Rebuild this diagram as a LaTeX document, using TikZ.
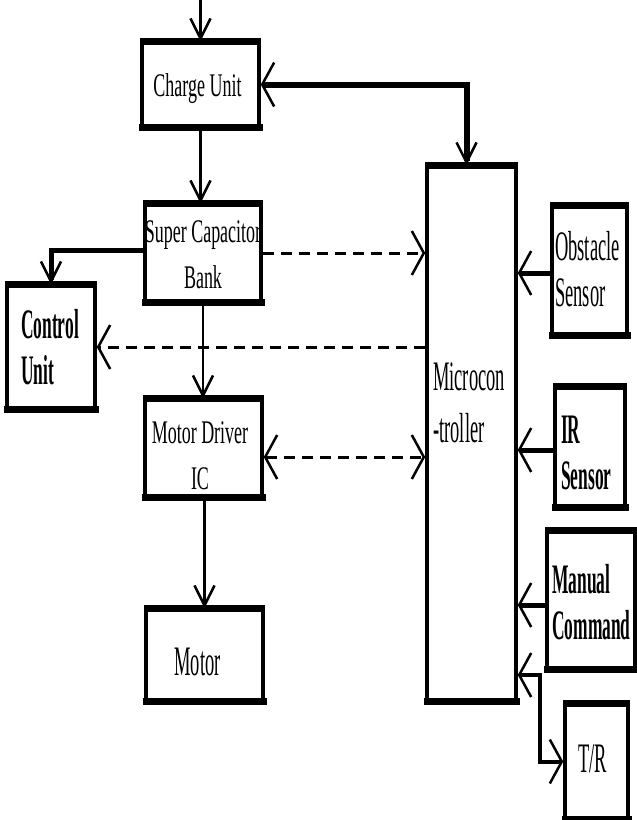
\documentclass[tikz,border=0pt]{standalone}
\usepackage{fontspec}
\setmainfont{Liberation Serif}
\newfontfamily\fmid{Liberation Serif}[FakeStretch=0.545]
\newfontfamily\ftall{Liberation Serif}[FakeStretch=0.44]
\newfontfamily\ftallb{Liberation Serif}[FakeStretch=0.415]
\usetikzlibrary{arrows.meta}
\newcommand{\midtxt}[2][c]{{\fmid\fontsize{33}{46}\selectfont\begin{tabular}{@{}#1@{}}#2\end{tabular}}}
\newcommand{\talltxt}[2][c]{{\ftall\fontsize{42}{46}\selectfont\begin{tabular}{@{}#1@{}}#2\end{tabular}}}
\newcommand{\boldtxt}[2][l]{{\ftallb\bfseries\fontsize{42}{46}\selectfont\begin{tabular}{@{}#1@{}}#2\end{tabular}}}
\begin{document}
\begin{tikzpicture}[x=1pt,y=-1pt,
  box/.style={draw, line width=3.5pt, inner sep=0pt},
  lbl/.style={inner sep=0pt},
  conn/.style={line width=2.5pt},
  dashln/.style={line width=3pt, dash pattern=on 11pt off 7pt},
  vtip/.tip={Straight Barb[length=20pt,width=20pt,line width=2.5pt]},
  htip/.tip={Straight Barb[length=12pt,width=44pt,line width=2.5pt]}]
\useasboundingbox (0,0) rectangle (637,820);
% boxes
\node[box, minimum width=117pt, minimum height=83pt]  (charge)   at (200.5,84.5) {};
\node[box, minimum width=116pt, minimum height=96pt]  (supercap) at (203,253) {};
\node[box, minimum width=88pt,  minimum height=122pt] (control)  at (51,347) {};
\node[box, minimum width=117pt, minimum height=96pt]  (driver)   at (203.5,448) {};
\node[box, minimum width=117pt, minimum height=90pt]  (motor)    at (204.5,655) {};
\node[box, minimum width=89pt,  minimum height=533pt] (micro)    at (471.5,433.5) {};
\node[box, minimum width=75pt,  minimum height=126pt] (obstacle) at (589.5,270.5) {};
\node[box, minimum width=70pt,  minimum height=118pt] (ir)       at (590,447) {};
\node[box, minimum width=88pt,  minimum height=136pt] (manual)   at (591,600) {};
\node[box, minimum width=63pt,  minimum height=113pt] (tr)       at (596.5,761.5) {};
\foreach \n in {charge,supercap,control,driver,motor,micro,obstacle,ir,manual,tr}
  \draw[line width=7pt, shorten <=-1.75pt, shorten >=-1.75pt]
    (\n.north west) -- (\n.north east) (\n.south west) -- (\n.south east);
% texts
\node[lbl] (charge-t) at (197.5,86.8) {\midtxt{Charge Unit}};
\node[lbl] (supercap-t) at (203,255.8) {\midtxt{Super Capacitor\\Bank}};
\node[lbl] (driver-t) at (200,456.8) {\midtxt{Motor Driver\\IC}};
\node[lbl] (motor-t) at (197.5,665.8) {\talltxt{Motor}};
\node[lbl, anchor=west] (control-t) at (21,351.8) {\boldtxt{Control\\Unit}};
\node[lbl, anchor=west] (micro-t) at (433,405.6)
  {{\ftall\fontsize{42}{52}\selectfont\begin{tabular}{@{}l@{}}Microcon\\-troller\end{tabular}}};
\node[lbl, anchor=west] (obstacle-t) at (555,273.8) {\talltxt[l]{Obstacle\\Sensor}};
\node[lbl, anchor=west] (ir-t) at (561,456.8) {\boldtxt{IR\\Sensor}};
\node[lbl, anchor=west] (manual-t) at (552,606.8) {\boldtxt{Manual\\Command}};
\node[lbl] (tr-t) at (592.5,762.8) {\talltxt{T/R}};
% connectors
\coordinate (top) at (charge.north |- 0,0);
\draw[conn, -{vtip}] (top) -- (charge.north);
\draw[conn, -{vtip}] (charge.south) -- (charge.south |- supercap.north);
\draw[line width=6pt, {htip}-{vtip}] (charge.east) -| ([xshift=-5pt]micro.north);
\draw[line width=5pt, -{vtip}] ([yshift=3pt]supercap.west) -| (control.north);
\draw[dashln, -{htip}] (supercap.east) -- (supercap.east -| micro.west);
\draw[dashln, -{htip}] (micro.west |- control.east) -- (control.east);
\draw[conn, -{vtip}] (supercap.south) -- (supercap.south |- driver.north);
\path ([yshift=-9pt]driver.east) coordinate (dr);
\draw[dashln, {htip}-{htip}] (dr) -- (dr -| micro.west);
\draw[conn, -{vtip}] (driver.south -| motor.north) -- (motor.north);
\draw[line width=5pt, -{htip}] ([yshift=-2.5pt]obstacle.west) -- ([yshift=-2.5pt]obstacle.west -| micro.east);
\draw[line width=5pt, -{htip}] ([yshift=-3pt]ir.west) -- ([yshift=-3pt]ir.west -| micro.east);
\draw[line width=5pt, -{htip}] ([yshift=-5pt]manual.west) -- ([yshift=-5pt]manual.west -| micro.east);
\path (micro.east) ++(0,241.5) coordinate (mt);
\draw[line width=4pt, {htip}-{htip}] (mt) -- ++(22,0) |- (tr.west);
\end{tikzpicture}
\end{document}
